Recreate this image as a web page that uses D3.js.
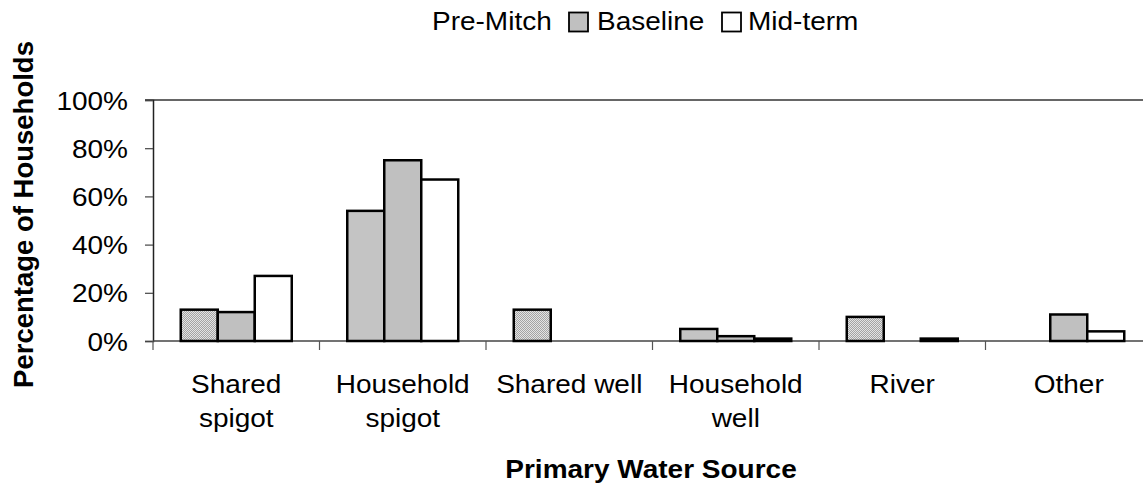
<!DOCTYPE html>
<html>
<head>
<meta charset="utf-8">
<script src="https://cdn.jsdelivr.net/npm/d3@7"></script>
<style>
	body { margin: 0; background: #fff; }
	text { font-family: "Liberation Sans", Arial, sans-serif; fill: #000; }
</style>
</head>
<body>
<div id="chart-area"></div>
<script>
// Data
var categories = ["Shared spigot", "Household spigot", "Shared well", "Household well", "River", "Other"];
var categoryLines = [["Shared", "spigot"], ["Household", "spigot"], ["Shared well"], ["Household", "well"], ["River"], ["Other"]];
var seriesNames = ["Pre-Mitch", "Baseline", "Mid-term"];
var preMitch = [13, 54, 13, 5, 10, 0];
var baseline = [12, 75, 0, 2, 0, 11];
var midTerm = [27, 67, 0, 1, 1, 4];
var yTicks = [0, 20, 40, 60, 80, 100];

// Canvas
var canvasWidth = 1143;
var canvasHeight = 487;

// Plot area (right side runs off the picture)
var plotLeft = 153;
var plotTop = 100;
var plotBottom = 341;
var catWidth = 166.5;

// text is a bit wider than it is tall in the reference
var stretch = "scale(1.12,1)";
var fontSize = 25;

var svg = d3.select("#chart-area")
	.append("svg")
	.attr("width", canvasWidth)
	.attr("height", canvasHeight);

// Fill pattern for Pre-Mitch
var defs = svg.append("defs");
var pat = defs.append("pattern")
	.attr("id", "dots")
	.attr("width", 2)
	.attr("height", 2)
	.attr("patternUnits", "userSpaceOnUse");
pat.append("rect").attr("width", 2).attr("height", 2).attr("fill", "#e4e4e4");
pat.append("rect").attr("width", 1).attr("height", 1).attr("fill", "#a4a4a4");
pat.append("rect").attr("x", 1).attr("y", 1).attr("width", 1).attr("height", 1).attr("fill", "#a4a4a4");

var seriesFills = ["url(#dots)", "#c0c0c0", "#ffffff"];
var seriesValues = [preMitch, baseline, midTerm];

// Scales
var x0 = d3.scaleBand()
	.domain(categories)
	.range([plotLeft, plotLeft + catWidth * categories.length])
	.paddingInner(0)
	.paddingOuter(0);

var x1 = d3.scaleBand()
	.domain(seriesNames)
	.range([0, x0.bandwidth()])
	.paddingInner(0)
	.paddingOuter(0.75);

var y = d3.scaleLinear()
	.domain([0, 100])
	.range([plotBottom, plotTop]);

// Top line at 100%
svg.append("line")
	.attr("x1", plotLeft - 8)
	.attr("x2", canvasWidth)
	.attr("y1", y(100))
	.attr("y2", y(100))
	.attr("stroke", "#333")
	.attr("stroke-width", 1.5);

// Y axis
var yAxis = svg.append("g")
	.attr("transform", "translate(" + plotLeft + ",0)")
	.call(d3.axisLeft(y).tickValues(yTicks).tickSize(8).tickFormat(function(d){ return d + "%"; }));
yAxis.select(".domain").attr("stroke", "#222").attr("stroke-width", 1.5);
yAxis.selectAll(".tick line").attr("stroke", "#444").attr("stroke-width", 1.2);
yAxis.selectAll(".tick text")
	.attr("x", null)
	.attr("dy", "0.36em")
	.attr("font-size", fontSize)
	.attr("font-family", "Liberation Sans, Arial, sans-serif")
	.attr("fill", "#000")
	.attr("text-anchor", "end")
	.attr("transform", "translate(-25,0) " + stretch);

// X axis line and ticks at category boundaries
svg.append("line")
	.attr("x1", plotLeft)
	.attr("x2", canvasWidth)
	.attr("y1", plotBottom)
	.attr("y2", plotBottom)
	.attr("stroke", "#444")
	.attr("stroke-width", 1.5);

svg.selectAll(".xtick")
	.data(categories)
	.enter()
	.append("line")
	.attr("class", "xtick")
	.attr("x1", function(d){ return x0(d); })
	.attr("x2", function(d){ return x0(d); })
	.attr("y1", plotBottom)
	.attr("y2", plotBottom + 9)
	.attr("stroke", "#555")
	.attr("stroke-width", 1.2);

// Bars
var groups = svg.selectAll(".group")
	.data(categories)
	.enter()
	.append("g")
	.attr("class", "group")
	.attr("transform", function(d){ return "translate(" + x0(d) + ",0)"; });

groups.selectAll("rect")
	.data(function(d, i){
		return seriesNames.map(function(s, j){
			return { series: s, value: seriesValues[j][i], fill: seriesFills[j] };
		}).filter(function(b){ return b.value > 0; });
	})
	.enter()
	.append("rect")
	.attr("x", function(d){ return x1(d.series); })
	.attr("y", function(d){ return y(d.value); })
	.attr("width", x1.bandwidth())
	.attr("height", function(d){ return y(0) - y(d.value); })
	.attr("fill", function(d){ return d.fill; })
	.attr("stroke", "#000")
	.attr("stroke-width", 2.5);

// Category labels
categories.forEach(function(c, i){
	categoryLines[i].forEach(function(line, k){
		svg.append("text")
			.attr("transform", "translate(" + (x0(c) + x0.bandwidth() / 2) + "," + (393 + k * 34) + ") " + stretch)
			.attr("font-size", fontSize)
			.attr("text-anchor", "middle")
			.text(line);
	});
});

// Axis titles
svg.append("text")
	.attr("transform", "translate(651,478) " + stretch)
	.attr("font-size", fontSize)
	.attr("font-weight", "bold")
	.attr("text-anchor", "middle")
	.text("Primary Water Source");

svg.append("text")
	.attr("transform", "translate(33,214.5) rotate(-90)")
	.attr("font-size", 27.5)
	.attr("font-weight", "bold")
	.attr("text-anchor", "middle")
	.text("Percentage of Households");

// Legend (Pre-Mitch swatch is blank in the reference)
var legendItems = [
	{ name: "Pre-Mitch", box: null, textX: 432 },
	{ name: "Baseline", box: { x: 569, fill: "#c0c0c0" }, textX: 597 },
	{ name: "Mid-term", box: { x: 722, fill: "#ffffff" }, textX: 748 }
];

legendItems.forEach(function(item){
	if (item.box) {
		svg.append("rect")
			.attr("x", item.box.x)
			.attr("y", 12.5)
			.attr("width", 19)
			.attr("height", 19)
			.attr("fill", item.box.fill)
			.attr("stroke", "#000")
			.attr("stroke-width", 1.8);
	}
	svg.append("text")
		.attr("transform", "translate(" + item.textX + ",30) " + stretch)
		.attr("font-size", fontSize)
		.text(item.name);
});
</script>
</body>
</html>
